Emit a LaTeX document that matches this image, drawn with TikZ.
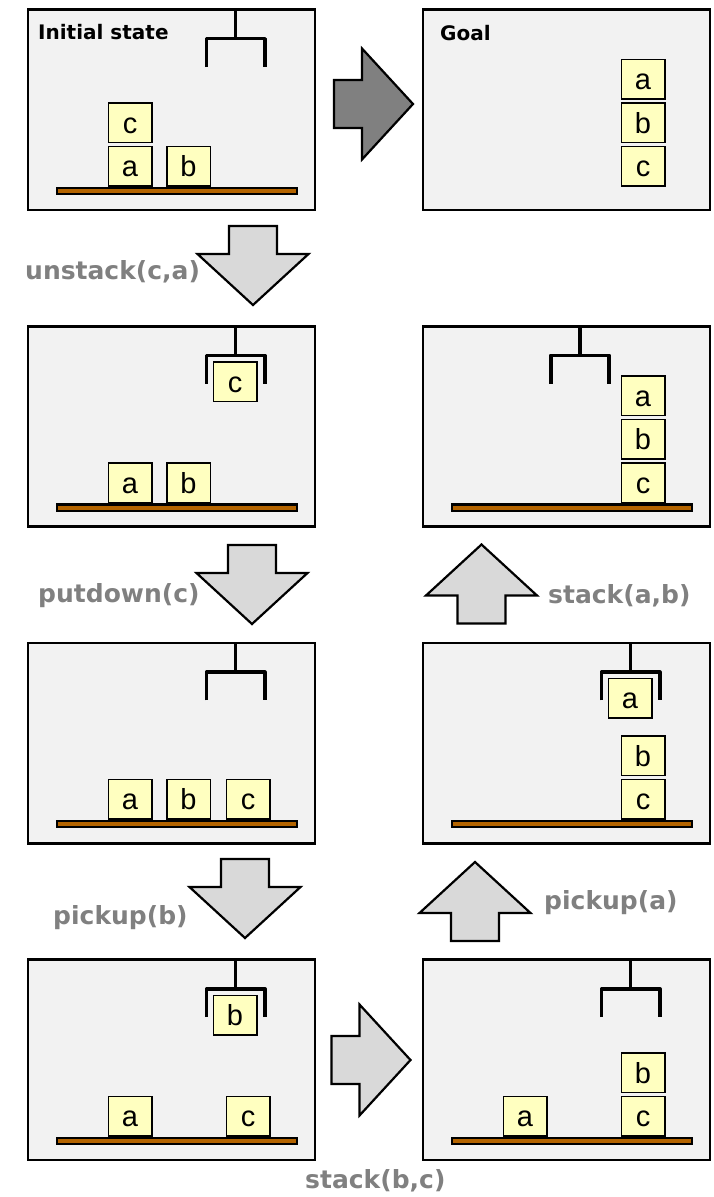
\documentclass[tikz,border=0pt]{standalone}
\usepackage{fontspec}
\setmainfont{Liberation Sans}
\newfontfamily\labelfont{DejaVu Sans}
\usetikzlibrary{positioning}
\definecolor{panelgray}{HTML}{F2F2F2}
\definecolor{blockyellow}{HTML}{FFFFC0}
\definecolor{tablebrown}{RGB}{180,100,0}
\definecolor{arrowlight}{HTML}{D9D9D9}
\definecolor{arrowdark}{HTML}{808080}
\definecolor{opgray}{HTML}{808080}

\begin{document}
\begin{tikzpicture}[x=1pt,y=-1pt,
  panel/.style={draw,line width=2.6pt,fill=panelgray,minimum width=287pt,minimum height=200.5pt,inner sep=0pt,outer sep=0pt},
  blk/.style={draw,line width=1.5pt,fill=blockyellow,minimum width=43.5pt,minimum height=39.5pt,inner sep=0pt,
    text height=21pt,text depth=0pt,font=\fontsize{29}{30}\selectfont},
  tbl/.style={draw,line width=2.2pt,fill=tablebrown},
  claw/.style={line width=3.5pt,line join=round},
  title/.style={anchor=base west,inner sep=0pt,font=\labelfont\bfseries\fontsize{20}{24}\selectfont},
  op/.style={anchor=base west,inner sep=0pt,text=opgray,font=\labelfont\bfseries\fontsize{25}{30}\selectfont},
  hand/.pic={\draw[claw] (0,0) -- (0,29.2) (-29.2,57.5) -- (-29.2,29.2) -- (29.2,29.2) -- (29.2,57.5);},
  bigarrow/.pic={\draw[line width=2.2pt,fill=#1] (-39.5,-24) -- (-11.5,-24) -- (-11.5,-55.5) -- (39.5,0)
    -- (-11.5,55.5) -- (-11.5,24) -- (-39.5,24) -- cycle;},
  node distance=116.2pt]
  \useasboundingbox (0,0) rectangle (713,1197);

  % the states, left column top down, right column bottom up
  \node[panel,anchor=north west] (init) at (28,9.5) {};
  \node[panel,below=of init] (s1) {};
  \node[panel,below=of s1] (s2) {};
  \node[panel,below=of s2] (s3) {};
  \node[panel,anchor=north west] (goal) at (423,9.5) {};
  \node[panel,below=of goal] (s6) {};
  \node[panel,below=of s6] (s5) {};
  \node[panel,below=of s5] (s4) {};

  % initial state
  \begin{scope}[shift={(init.north west)}]
    \node[title] (init-title) at (10,30) {Initial state};
    \draw[tbl] (28.7,178.3) rectangle (269,184.4);
    \node[blk] (init-a) at (102,156.5) {a};
    \node[blk] (init-b) at (160.5,156.5) {b};
    \node[blk] (init-c) at (102,113) {c};
    \pic at (207.7,0) {hand};
  \end{scope}

  % goal
  \begin{scope}[shift={(goal.north west)}]
    \node[title] (goal-title) at (17,30.5) {Goal};
    \node[blk] (goal-c) at (220,156.5) {c};
    \node[blk] (goal-b) at (220,113) {b};
    \node[blk] (goal-a) at (220,69.5) {a};
  \end{scope}

  % unstack(c,a)
  \begin{scope}[shift={(s1.north west)}]
    \draw[tbl] (28.7,178.3) rectangle (269,184.4);
    \node[blk] (s1-a) at (102,156.5) {a};
    \node[blk] (s1-b) at (160.5,156.5) {b};
    \node[blk] (s1-c) at (207,55.5) {c};
    \pic at (207.7,0) {hand};
  \end{scope}

  % putdown(c)
  \begin{scope}[shift={(s2.north west)}]
    \draw[tbl] (28.7,178.3) rectangle (269,184.4);
    \node[blk] (s2-a) at (102,156.5) {a};
    \node[blk] (s2-b) at (160.5,156.5) {b};
    \node[blk] (s2-c) at (220,156.5) {c};
    \pic at (207.7,0) {hand};
  \end{scope}

  % pickup(b)
  \begin{scope}[shift={(s3.north west)}]
    \draw[tbl] (28.7,178.3) rectangle (269,184.4);
    \node[blk] (s3-a) at (102,156.5) {a};
    \node[blk] (s3-c) at (220,156.5) {c};
    \node[blk] (s3-b) at (207,55.5) {b};
    \pic at (207.7,0) {hand};
  \end{scope}

  % stack(b,c)
  \begin{scope}[shift={(s4.north west)}]
    \draw[tbl] (28.7,178.3) rectangle (269,184.4);
    \node[blk] (s4-a) at (102,156.5) {a};
    \node[blk] (s4-c) at (220,156.5) {c};
    \node[blk] (s4-b) at (220,113) {b};
    \pic at (207.7,0) {hand};
  \end{scope}

  % pickup(a)
  \begin{scope}[shift={(s5.north west)}]
    \draw[tbl] (28.7,178.3) rectangle (269,184.4);
    \node[blk] (s5-c) at (220,156.5) {c};
    \node[blk] (s5-b) at (220,113) {b};
    \node[blk] (s5-a) at (207,55.5) {a};
    \pic at (207.7,0) {hand};
  \end{scope}

  % stack(a,b)
  \begin{scope}[shift={(s6.north west)}]
    \draw[tbl] (28.7,178.3) rectangle (269,184.4);
    \node[blk] (s6-c) at (220,156.5) {c};
    \node[blk] (s6-b) at (220,113) {b};
    \node[blk] (s6-a) at (220,69.5) {a};
    \pic at (157,0) {hand};
  \end{scope}

  % block arrows between the states
  \pic at (373.5,104) {bigarrow=arrowdark};
  \pic[rotate=-90] at (253,265.5) {bigarrow=arrowlight};
  \pic[rotate=-90] at (252,584.5) {bigarrow=arrowlight};
  \pic[rotate=-90] at (245,898.5) {bigarrow=arrowlight};
  \pic at (371,1060) {bigarrow=arrowlight};
  \pic[rotate=90] at (475,901.5) {bigarrow=arrowlight};
  \pic[rotate=90] at (481.5,584) {bigarrow=arrowlight};

  \node[op] (op-unstack) at (25,279) {unstack(c,a)};
  \node[op] (op-putdown) at (38,602) {putdown(c)};
  \node[op] (op-pickb) at (53,924) {pickup(b)};
  \node[op] (op-stackbc) at (305,1188) {stack(b,c)};
  \node[op] (op-picka) at (544,909) {pickup(a)};
  \node[op] (op-stackab) at (548,603) {stack(a,b)};
\end{tikzpicture}
\end{document}
